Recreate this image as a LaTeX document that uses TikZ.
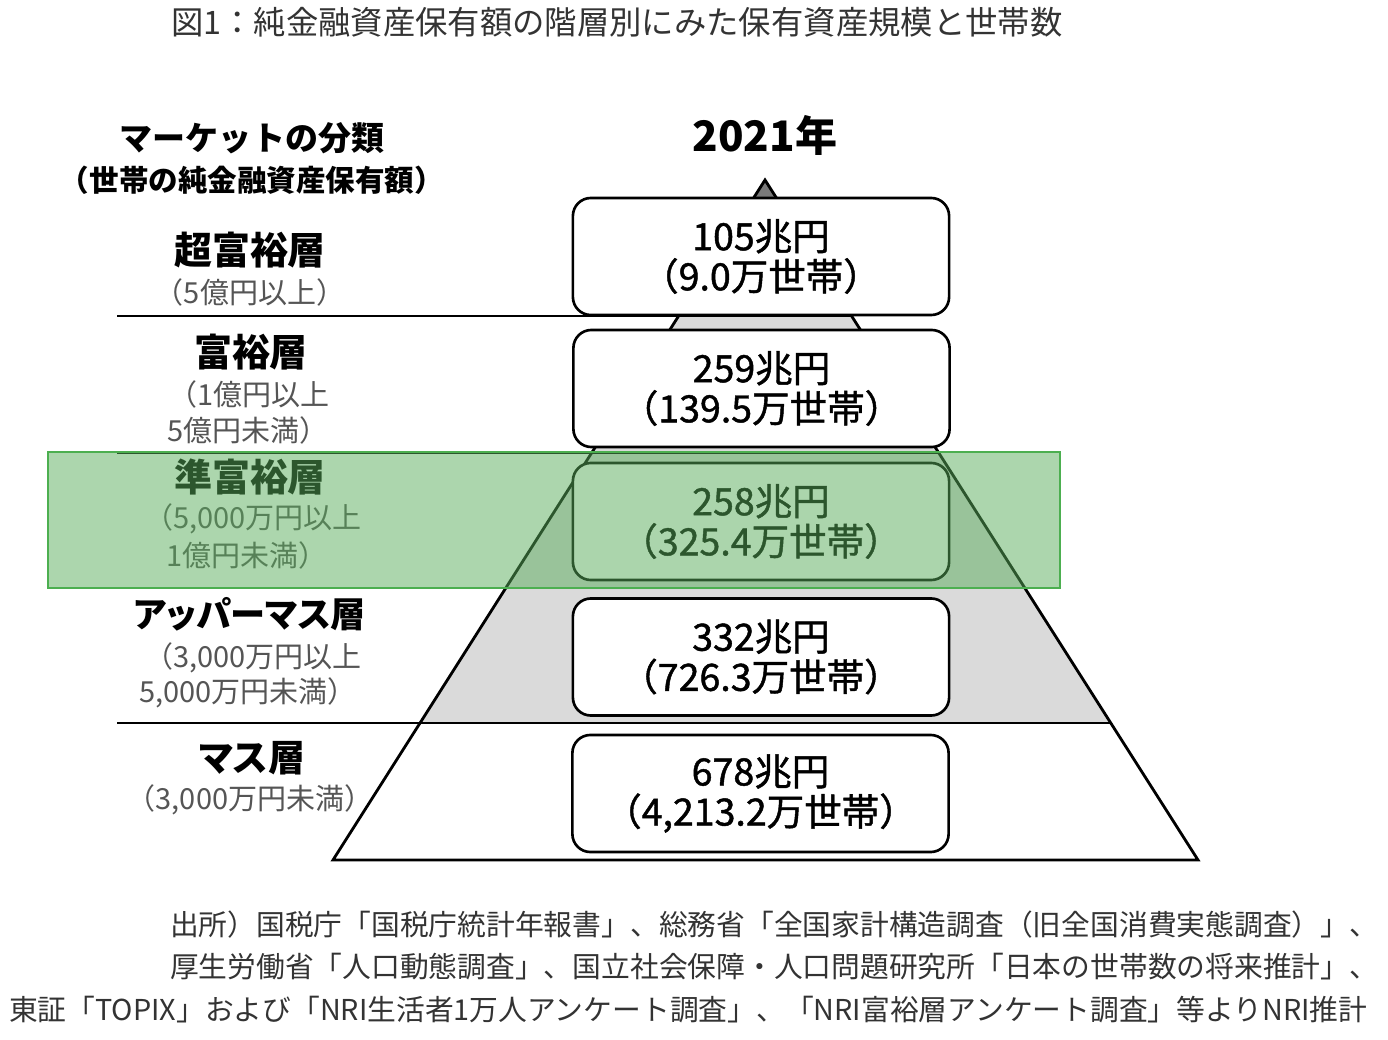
\documentclass[tikz,border=0pt]{standalone}
\usepackage{fontspec}
\setmainfont{Noto Sans CJK JP}
\newfontfamily\jpprop{Noto Sans CJK JP}[RawFeature=+palt]
\newfontfamily\jpmed{Noto Sans CJK JP}[FakeBold=1.2]
\usepackage{xcolor}
\usetikzlibrary{positioning}
\definecolor{ink}{HTML}{333333}
\definecolor{subgray}{HTML}{555555}
\definecolor{tipgray}{HTML}{7A7A7A}
\definecolor{bandgray}{HTML}{DADADA}
\definecolor{hlgreen}{HTML}{59AD5B}
\definecolor{hledge}{HTML}{4CAF50}

\begin{document}
\begin{tikzpicture}[
  x=0.01cm, y=-0.01cm,
  txt/.style={inner sep=0pt, outer sep=0pt},
  head/.style={txt, font=\bfseries\fontsize{10.8pt}{12pt}\selectfont, text=black},
  sub/.style={txt, font=\fontsize{8.25pt}{9.5pt}\selectfont, text=subgray},
  tierbox/.style={draw=black, line width=0.75pt, fill=white, rounded corners=0.18cm,
    minimum width=3.76cm, minimum height=1.17cm, align=center,
    font=\jpmed\fontsize{10.67pt}{11.4pt}\selectfont},
  src/.style={txt, anchor=west, font=\fontsize{8.18pt}{9pt}\selectfont, text=ink},
  tierline/.style={line width=0.8pt, black}
]
\useasboundingbox (0,0) rectangle (1388,1040);

% title
\node[txt, anchor=west, text=ink, font=\fontsize{9.2pt}{10pt}\selectfont] (title) at (171,22)
  {図1：純金融資産保有額の階層別にみた保有資産規模と世帯数};

% pyramid
\coordinate (apex) at (765,180);
\coordinate (bl) at (333,860);
\coordinate (br) at (1198,860);
\fill[tipgray] (apex) -- (678.6,316) -- (851.6,316) -- cycle;
\fill[bandgray] (678.6,316) -- (851.6,316) -- (1110.8,723) -- (420,723) -- cycle;

% tier boundaries
\draw[tierline] (117,316) -- (851.6,316);
\draw[tierline] (117,453) -- (938.9,453);
\draw[tierline] (117,588) -- (1024.8,588);
\draw[tierline] (117,723) -- (1110.8,723);
\draw[line width=0.8pt, line join=miter] (apex) -- (bl) -- (br) -- cycle;

% year
\node[txt, font=\bfseries\fontsize{11.95pt}{13pt}\selectfont] (year) at (765,135) {2021年};

% boxes
\node[tierbox] (b1) at (761,256.5) {105兆円\\（9.0万世帯）};
\node[tierbox] (b2) at (761.5,388.5) {259兆円\\（139.5万世帯）};
\node[tierbox] (b3) at (761,521.5) {258兆円\\（325.4万世帯）};
\node[tierbox] (b4) at (761,657) {332兆円\\（726.3万世帯）};
\node[tierbox] (b5) at (760.5,793.5) {678兆円\\（4,213.2万世帯）};

% market classes
\node[txt, font=\bfseries\fontsize{9.39pt}{10.5pt}\selectfont] (mkt) at (252,138) {マーケットの分類};
\node[txt, font=\bfseries\fontsize{8.4pt}{9.5pt}\selectfont] (mktsub) at (252,180) {（世帯の純金融資産保有額）};

\node[head] (c1) at (250,250) {超富裕層};
\node[sub] (c1a) at (250,292) {（5億円以上）};

\node[head] (c2) at (251,352) {富裕層};
\node[sub, anchor=west] (c2a) at (168,394) {（1億円以上};
\node[sub, anchor=west] (c2b) at (167,430) {5億円未満）};

\node[head] (c3) at (250,477) {準富裕層};
\node[sub, anchor=west] (c3a) at (144,519) {（5,000万円以上};
\node[sub, anchor=west] (c3b) at (166,555) {1億円未満）};

\node[head, font=\jpprop\bfseries\fontsize{10pt}{11pt}\selectfont] (c4) at (250,614) {アッパーマス層};
\node[sub, anchor=west] (c4a) at (144,658) {（3,000万円以上};
\node[sub, anchor=west] (c4b) at (139,693) {5,000万円未満）};

\node[head, font=\jpprop\bfseries\fontsize{10.5pt}{11.5pt}\selectfont] (c5) at (252,758) {マス層};
\node[sub] (c5a) at (250,800) {（3,000万円未満）};

% highlight
\draw[hledge, line width=0.5pt, fill=hlgreen, fill opacity=0.5] (48,452) rectangle (1060,588);

% source
\node[src] (s1) at (170,925) {出所）国税庁「国税庁統計年報書」、総務省「全国家計構造調査（旧全国消費実態調査）」、};
\node[src] (s2) at (170,967) {厚生労働省「人口動態調査」、国立社会保障・人口問題研究所「日本の世帯数の将来推計」、};
\node[src] (s3) at (9,1010) {東証「TOPIX」および「NRI生活者1万人アンケート調査」、「NRI富裕層アンケート調査」等よりNRI推計};
\end{tikzpicture}
\end{document}
